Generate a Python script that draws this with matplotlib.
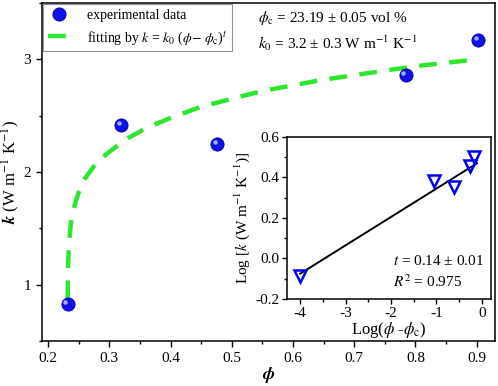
import matplotlib
matplotlib.use("Agg")
import matplotlib.pyplot as plt
import matplotlib.transforms as mtransforms
from matplotlib.ticker import MultipleLocator

plt.rcParams['font.family'] = ['Liberation Serif', 'DejaVu Serif']
plt.rcParams['mathtext.fontset'] = 'stix'
plt.rcParams['axes.unicode_minus'] = False
plt.rcParams['font.size'] = 10

# experimental data
phi = [0.232, 0.319, 0.476, 0.784, 0.903]
k = [0.83, 2.42, 2.25, 2.86, 3.17]

# fitting curve
phi_fit = [0.2320, 0.2322, 0.2325, 0.233, 0.234, 0.236, 0.238, 0.240, 0.245,
           0.250, 0.260, 0.280, 0.300, 0.330, 0.360, 0.400, 0.450, 0.500,
           0.550, 0.600, 0.650, 0.700, 0.750, 0.800, 0.850, 0.900]
k_fit = [0.88, 1.03, 1.13, 1.23, 1.35, 1.48, 1.57, 1.63, 1.74,
         1.82, 1.94, 2.09, 2.18, 2.30, 2.39, 2.48, 2.58, 2.65,
         2.72, 2.77, 2.82, 2.86, 2.90, 2.94, 2.97, 3.00]

# inset: log-log data and linear fit
log_dphi = [-4.0, -1.06, -0.61, -0.26, -0.175]
log_k = [-0.085, 0.384, 0.352, 0.456, 0.501]
line_x = [-4.0, -0.11]
line_y = [-0.075, 0.47]

fig = plt.figure(figsize=(4.98, 3.86), dpi=100)
ax = fig.add_axes([0.0843, 0.1166, 0.9097, 0.8754])

fit_line, = ax.plot(phi_fit, k_fit, color='#2ee62e', lw=3.2, dashes=(4, 2.8),
                    zorder=2)
pts, = ax.plot(phi, k, 'o', ms=9.5, color='#1010e8', mec='#0000a0', mew=0.6,
               zorder=3)
# small highlight to make the points look like spheres
hl = mtransforms.offset_copy(ax.transData, fig=fig, x=-1.6, y=1.6, units='points')
ax.plot(phi, k, 'o', ms=3.2, color='#b8c0ff', mec='none', alpha=0.9,
        transform=hl, zorder=4)

ax.set_xlim(0.19, 0.93)
ax.set_ylim(0.5, 3.5)
ax.set_xticks([0.2, 0.3, 0.4, 0.5, 0.6, 0.7, 0.8, 0.9])
ax.set_yticks([1, 2, 3])
ax.xaxis.set_minor_locator(MultipleLocator(0.05))
ax.yaxis.set_minor_locator(MultipleLocator(0.5))
ax.tick_params(which='major', direction='out', length=4.5, width=1, labelsize=11)
ax.tick_params(which='minor', direction='out', length=2.5, width=1)
for s in ax.spines.values():
    s.set_linewidth(1.1)
ax.set_xlabel(r'$\boldsymbol{\phi}$', fontsize=13, labelpad=0)
ax.set_ylabel(r'$\boldsymbol{k}$ (W m$^{-1}$ K$^{-1}$)', fontsize=12)
ax.yaxis.set_label_coords(-0.044, 0.5)

leg = ax.legend([pts, fit_line],
                ['experimental data',
                 r'fitting by $k$ = $k_0$ ($\phi$$-$ $\phi_{\rm c}$)$^t$'],
                loc='upper left', fontsize=10, frameon=True, fancybox=False,
                edgecolor='#777777', borderaxespad=0.1, handlelength=1.5,
                handletextpad=1.3, borderpad=0.35, labelspacing=0.45)
leg.get_frame().set_linewidth(0.8)

ax.text(0.477, 0.955, r'$\phi_{\rm c}$ = 23.19 ± 0.05 vol %', transform=ax.transAxes,
        fontsize=11, va='center', ha='left')
ax.text(0.477, 0.88, r'$k_0$ = 3.2 ± 0.3 W m$^{-1}$ K$^{-1}$', transform=ax.transAxes,
        fontsize=11, va='center', ha='left')

# inset
ins = fig.add_axes([0.5763, 0.2254, 0.4096, 0.4197])
ins.plot(line_x, line_y, color='black', lw=1.4, zorder=2)
ins.plot(log_dphi, log_k, 'v', ms=8, mfc='none', mec='#0000ee', mew=1.8, zorder=3)
ins.set_xlim(-4.29, 0.2)
ins.set_ylim(-0.2, 0.6)
ins.set_xticks([-4, -3, -2, -1, 0])
ins.set_yticks([-0.2, 0.0, 0.2, 0.4, 0.6])
ins.xaxis.set_minor_locator(MultipleLocator(0.5))
ins.yaxis.set_minor_locator(MultipleLocator(0.1))
ins.tick_params(which='major', direction='out', length=3.5, width=1, labelsize=11, pad=2)
ins.tick_params(which='minor', direction='out', length=2, width=1)
for s in ins.spines.values():
    s.set_linewidth(1.1)
ins.set_xlabel(r'Log($\phi$ -$\phi_{\rm c}$)', fontsize=12, labelpad=0)
ins.set_ylabel(r'Log [$k$ (W m$^{-1}$ K$^{-1}$)]', fontsize=11, labelpad=2)
ins.text(0.52, 0.235, r'$t$ = 0.14 ± 0.01', transform=ins.transAxes,
         fontsize=11, va='center', ha='left')
ins.text(0.52, 0.105, r'$R^2$ = 0.975', transform=ins.transAxes,
         fontsize=11, va='center', ha='left')

fig.savefig('out.png', dpi=100)
